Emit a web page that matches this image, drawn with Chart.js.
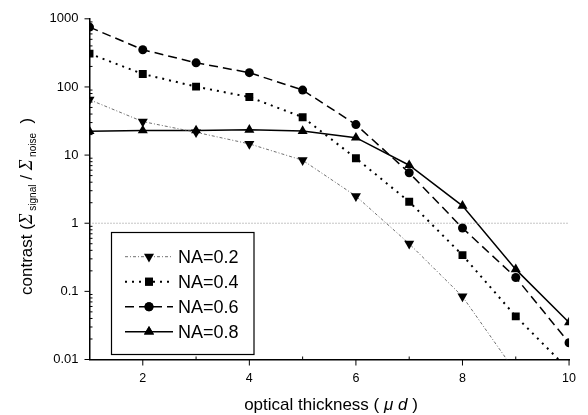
<!DOCTYPE html>
<html>
<head>
<meta charset="utf-8">
<script src="https://cdn.jsdelivr.net/npm/chart.js@4/dist/chart.umd.min.js"></script>
<style>
html,body{margin:0;padding:0;background:#fff;}
#wrap{width:588px;height:415px;position:relative;}
</style>
</head>
<body>
<div id="wrap"><canvas id="c" width="588" height="415"></canvas></div>
<script>
// ---- data ----
const thickness = [1, 2, 3, 4, 5, 6, 7, 8, 9, 10];
const na02 = [65, 31, 21.6, 14.6, 8.4, 2.5, 0.5, 0.084, 0.0065, null];
const na04 = [308, 155, 101, 71, 36, 9, 2.07, 0.34, 0.043, 0.007];
const na06 = [755, 352, 226, 162, 90, 28, 5.5, 0.85, 0.16, 0.0176];
const na08 = [22.4, 23, 23, 23.5, 22.5, 18, 7.1, 1.8, 0.21, 0.035];
const seriesLabels = ['NA=0.2', 'NA=0.4', 'NA=0.6', 'NA=0.8'];
const refLevel = [1];
const yMajorTicks = [0.01, 0.1, 1, 10, 100, 1000];
const xMajorTicks = [2, 4, 6, 8, 10];

const FONT = '"Liberation Sans", Arial, Helvetica, sans-serif';
const SERIF = '"Liberation Serif", "Times New Roman", serif';

function pts(arr){ return thickness.map((x,i)=>({x:x, y:arr[i]})); }

const styles = [
  {color:'#707070', width:1, dash:[3,2,1,2], pointStyle:'triangle', rot:180, r:5.8},
  {color:'#000', width:2, dash:[2,5], pointStyle:'rect', rot:0, r:5.6},
  {color:'#000', width:1.5, dash:[9,5], pointStyle:'circle', rot:0, r:4.5},
  {color:'#000', width:1.5, dash:[], pointStyle:'triangle', rot:0, r:5.8}
];
const seriesData = [na02, na04, na06, na08];

const datasets = seriesData.map((arr,i)=>({
  label: seriesLabels[i],
  data: pts(arr),
  borderColor: styles[i].color,
  borderWidth: styles[i].width,
  borderDash: styles[i].dash,
  pointStyle: styles[i].pointStyle,
  pointRotation: styles[i].rot,
  pointRadius: styles[i].r,
  pointBackgroundColor: '#000',
  pointBorderColor: '#000',
  pointBorderWidth: 0,
  tension: 0,
  spanGaps: false
}));
datasets.unshift({
  label: 'ref',
  data: [{x: thickness[0], y: refLevel[0]}, {x: thickness[thickness.length-1], y: refLevel[0]}],
  borderColor: '#8a8a8a',
  borderWidth: 1,
  borderDash: [1,2],
  pointRadius: 0
});

const decor = {
  id: 'decor',
  afterDraw(chart){
    const ctx = chart.ctx;
    const xs = chart.scales.x, ys = chart.scales.y;
    const ca = chart.chartArea;
    ctx.save();
    ctx.strokeStyle = '#000';
    ctx.lineWidth = 1;
    // y ticks
    for (let k = -2; k <= 3; k++) {
      const p = ys.getPixelForValue(Math.pow(10,k));
      ctx.beginPath(); ctx.moveTo(ca.left - 5, p); ctx.lineTo(ca.left, p); ctx.stroke();
      if (k < 3) {
        for (let m = 2; m <= 9; m++) {
          const q = ys.getPixelForValue(m*Math.pow(10,k));
          ctx.beginPath(); ctx.moveTo(ca.left, q); ctx.lineTo(ca.left + 3, q); ctx.stroke();
        }
      }
    }
    // x ticks
    for (let v = 1; v <= 10; v++) {
      const p = xs.getPixelForValue(v);
      ctx.beginPath();
      if (v % 2 === 0) { ctx.moveTo(p, ca.bottom); ctx.lineTo(p, ca.bottom + 6); }
      else { ctx.moveTo(p, ca.bottom); ctx.lineTo(p, ca.bottom - 3); }
      ctx.stroke();
    }
    // legend
    const bx = 111.5, by = 232.5, bw = 142.5, bh = 122;
    ctx.fillStyle = '#fff';
    ctx.fillRect(bx, by, bw, bh);
    ctx.lineWidth = 1.2;
    ctx.strokeRect(bx, by, bw, bh);
    const rowY = [256.7, 281.7, 306.7, 331.7];
    for (let i = 0; i < 4; i++) {
      const st = styles[i];
      ctx.save();
      ctx.strokeStyle = st.color;
      ctx.lineWidth = st.width;
      ctx.setLineDash(st.dash);
      ctx.beginPath(); ctx.moveTo(125, rowY[i]); ctx.lineTo(173, rowY[i]); ctx.stroke();
      ctx.restore();
      Chart.helpers.drawPoint(ctx, {pointStyle: st.pointStyle, rotation: st.rot, borderWidth: 0, radius: st.r}, 149, rowY[i]);
      ctx.fillStyle = '#000';
      ctx.fill();
      ctx.font = '18px ' + FONT;
      ctx.textBaseline = 'middle';
      ctx.textAlign = 'left';
      ctx.fillText(seriesLabels[i], 178, rowY[i] + 1);
    }
    // x title
    ctx.fillStyle = '#000';
    ctx.textBaseline = 'alphabetic';
    ctx.textAlign = 'left';
    const xsegs = [
      {t:'optical thickness ( ', f:'17px ' + FONT},
      {t:'\u03bc', f:'italic 17px ' + FONT},
      {t:' ', f:'17px ' + FONT},
      {t:'d', f:'italic 17px ' + FONT},
      {t:' )', f:'17px ' + FONT}
    ];
    let tw = 0;
    xsegs.forEach(s=>{ ctx.font = s.f; s.w = ctx.measureText(s.t).width; tw += s.w; });
    let cx = 331 - tw/2;
    xsegs.forEach(s=>{ ctx.font = s.f; ctx.fillText(s.t, cx, 410); cx += s.w; });
    // y title (rotated)
    ctx.save();
    ctx.translate(31.5, 295);
    ctx.rotate(-Math.PI/2);
    const ysegs = [
      {t:'contrast (', f:'17px ' + FONT, dy:0},
      {t:'\u03a3', f:'italic 18px ' + SERIF, dy:0},
      {t:' signal', f:'10px ' + FONT, dy:4},
      {t:' / ', f:'17px ' + FONT, dy:0},
      {t:'\u03a3', f:'italic 18px ' + SERIF, dy:0},
      {t:' noise', f:'10px ' + FONT, dy:4},
      {t:'  )', f:'17px ' + FONT, dy:0}
    ];
    let yx = 0;
    ysegs.forEach(s=>{ ctx.font = s.f; ctx.fillText(s.t, yx, s.dy); yx += ctx.measureText(s.t).width; });
    ctx.restore();
    ctx.restore();
  }
};

new Chart(document.getElementById('c'), {
  type: 'line',
  data: { datasets },
  options: {
    responsive: false,
    animation: false,
    devicePixelRatio: 1,
    layout: { padding: { top: 17, right: 12, left: 0, bottom: 0 } },
    plugins: { legend: { display: false }, tooltip: { enabled: false } },
    scales: {
      x: {
        type: 'linear', min: 1, max: 10,
        afterFit(s){ s.height = 55.5; },
        grid: { display: false, drawTicks: false },
        border: { display: true, color: '#000', width: 1.5 },
        ticks: {
          stepSize: 1, autoSkip: false, maxRotation: 0,
          padding: 12,
          color: '#000',
          font: { family: FONT, size: 12.5 },
          callback: v => xMajorTicks.includes(v) ? String(v) : ''
        }
      },
      y: {
        type: 'logarithmic', min: 0.01, max: 1000,
        afterFit(s){ s.width = 89.5; },
        grid: { display: false, drawTicks: false },
        border: { display: true, color: '#000', width: 1.5 },
        ticks: {
          autoSkip: false,
          padding: 11,
          color: '#000',
          font: { family: FONT, size: 13 },
          callback: v => {
            const m = yMajorTicks.find(t => Math.abs(t - v) / t < 1e-6);
            return m !== undefined ? String(m) : '';
          }
        }
      }
    }
  },
  plugins: [decor]
});
</script>
</body>
</html>
